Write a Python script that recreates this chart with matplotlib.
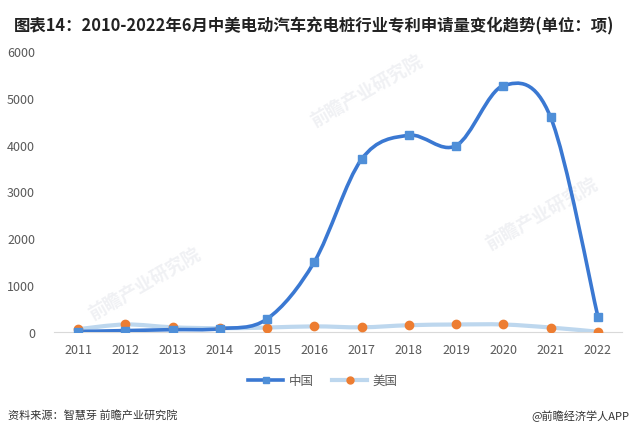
import matplotlib
matplotlib.use("Agg")
import matplotlib.pyplot as plt
import numpy as np
from matplotlib.path import Path
from matplotlib.patches import PathPatch
from matplotlib.lines import Line2D

plt.rcParams['font.family'] = ['Noto Sans CJK SC', 'DejaVu Sans']

years = [2011, 2012, 2013, 2014, 2015, 2016, 2017, 2018, 2019, 2020, 2021, 2022]
china = [10, 30, 50, 70, 280, 1500, 3690, 4200, 3980, 5260, 4580, 320]
usa = [60, 160, 100, 80, 95, 120, 100, 145, 160, 160, 95, 5]
yticks = [0, 1000, 2000, 3000, 4000, 5000, 6000]

title = "图表14：2010-2022年6月中美电动汽车充电桩行业专利申请量变化趋势(单位：项)"
source = "资料来源：智慧芽 前瞻产业研究院"
brand = "@前瞻经济学人APP"

c_cn_line = "#3a78d2"
c_cn_mark = "#4f8fd8"
c_us_line = "#bdd7ee"
c_us_mark = "#ed7d31"


def smooth_path(x, y):
    # Excel-style smoothed line: cubic Bezier with Catmull-Rom control points
    x = np.asarray(x, float)
    y = np.asarray(y, float)
    pts = np.column_stack([x, y])
    n = len(pts)
    verts = [pts[0]]
    codes = [Path.MOVETO]
    for i in range(n - 1):
        p0 = pts[i - 1] if i > 0 else pts[i]
        p1 = pts[i]
        p2 = pts[i + 1]
        p3 = pts[i + 2] if i + 2 < n else pts[i + 1]
        c1 = p1 + (p2 - p0) / 6.0
        c2 = p2 - (p3 - p1) / 6.0
        verts += [c1, c2, p2]
        codes += [Path.CURVE4] * 3
    return Path(verts, codes)


fig = plt.figure(figsize=(6.33, 4.35), dpi=100)
ax = fig.add_axes([0.086, 0.2345, 0.896, 0.646])

ax.add_patch(PathPatch(smooth_path(years, usa), facecolor="none",
                       edgecolor=c_us_line, lw=3.0, zorder=2))
ax.add_patch(PathPatch(smooth_path(years, china), facecolor="none",
                       edgecolor=c_cn_line, lw=2.6, zorder=3))
ax.plot(years, usa, ls="none", marker="o", ms=6, color=c_us_mark, zorder=4)
ax.plot(years, china, ls="none", marker="s", ms=6, color=c_cn_mark, zorder=5)

ax.set_xlim(years[0] - 0.5, years[-1] + 0.5)
ax.set_ylim(0, 6000)
ax.set_xticks(years)
ax.set_yticks(yticks)
ax.tick_params(length=0, labelsize=9, colors="#595959")
ax.tick_params(axis="x", pad=8)
ax.tick_params(axis="y", pad=14)
for s in ["top", "right", "left"]:
    ax.spines[s].set_visible(False)
ax.spines["bottom"].set_color("#d9d9d9")

# faint watermarks
for (wx, wy) in [(0.16, 0.17), (0.55, 0.86), (0.86, 0.42)]:
    ax.text(wx, wy, "前瞻产业研究院", transform=ax.transAxes, rotation=30,
            fontsize=13, color="#f0f1f4", ha="center", va="center",
            fontweight="bold", zorder=0)

handles = [
    Line2D([], [], color=c_cn_line, lw=2.6, marker="s", ms=5,
           markerfacecolor=c_cn_mark, markeredgecolor=c_cn_mark),
    Line2D([], [], color=c_us_line, lw=3, marker="o", ms=5,
           markerfacecolor=c_us_mark, markeredgecolor=c_us_mark),
]
fig.legend(handles, ["中国", "美国"], loc="center", bbox_to_anchor=(0.51, 0.123),
           ncol=2, frameon=False, fontsize=9, handlelength=2.8,
           columnspacing=1.5, handletextpad=0.4, labelcolor="#595959")

fig.text(0.022, 0.94, title, fontsize=11.8, fontweight="bold", color="#222222",
         va="center", ha="left")
fig.text(0.012, 0.044, source, fontsize=8, color="#333333", va="center", ha="left")
fig.text(0.995, 0.044, brand, fontsize=8, color="#333333", va="center", ha="right")

fig.savefig("out.png", dpi=100)
